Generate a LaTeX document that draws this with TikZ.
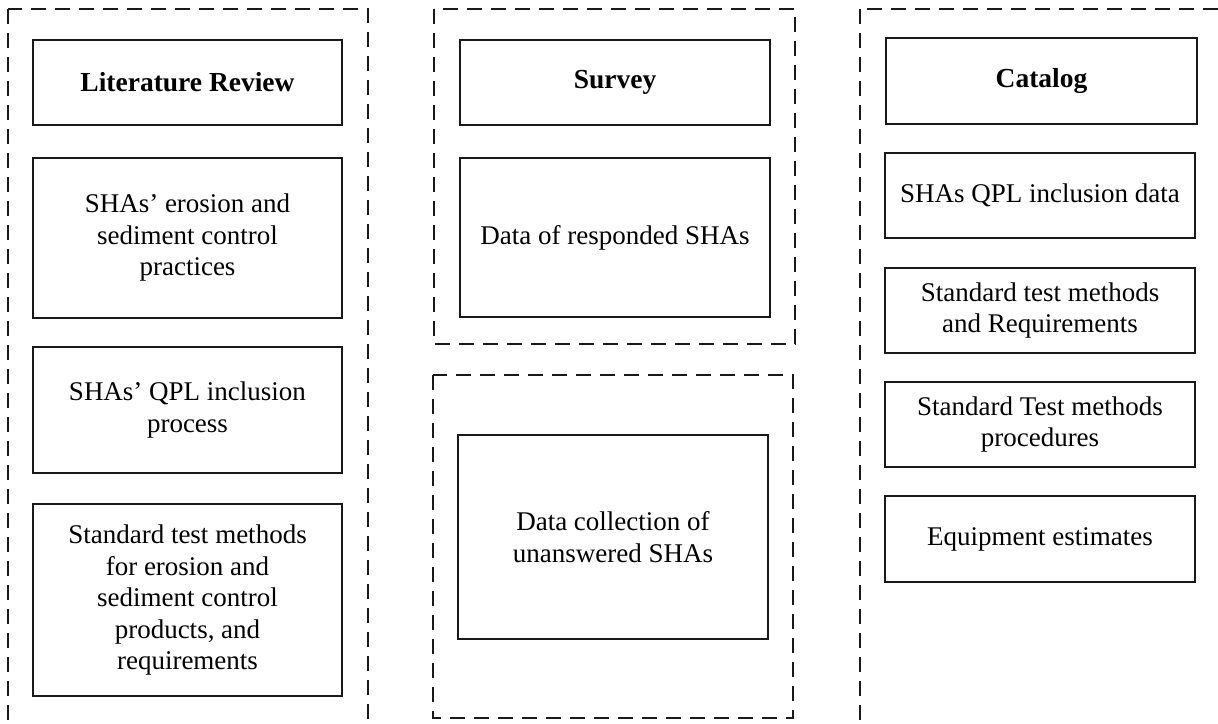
\documentclass[tikz,border=0pt]{standalone}
\usepackage{fontspec}
\setmainfont{Liberation Serif}
\begin{document}
\begin{tikzpicture}[x=1pt,y=-1pt,
  stagebox/.style={draw=black!90,line width=2.8pt,inner sep=0pt,align=center,
    font=\fontsize{27}{31.5}\selectfont},
  headbox/.style={stagebox,font=\fontsize{27.5}{31.5}\selectfont\bfseries},
  group/.style={draw=black!90,line width=2.4pt,dash pattern=on 15pt off 9pt}]
\useasboundingbox (0,0) rectangle (1218,723);
\clip (0,0) rectangle (1218,723);
\fill[white] (0,0) rectangle (1218,723);
% dashed containers
\draw[group] (8,9) rectangle (368,760);
\draw[group] (434,9) rectangle (795,344);
\draw[group] (433,375) rectangle (793,718);
\draw[group] (860,9) rectangle (1260,760);
% Literature review column
\node[headbox,minimum width=309,minimum height=85] (lit) at (187.5,82.5) {Literature Review};
\node[stagebox,minimum width=309,minimum height=160] (lit1) at (187.5,238) {SHAs’ erosion and\\sediment control\\practices};
\node[stagebox,minimum width=309,minimum height=126] (lit2) at (187.5,410) {SHAs’ QPL inclusion\\process};
\node[stagebox,minimum width=309,minimum height=192] (lit3) at (187.5,600) {Standard test methods\\for erosion and\\sediment control\\products, and\\requirements};
% Survey column
\node[headbox,minimum width=310,minimum height=85] (sur) at (615,82.5) {Survey};
\node[stagebox,minimum width=310,minimum height=159] (sur1) at (615,237.5) {Data of responded SHAs};
\node[stagebox,minimum width=310,minimum height=204] (sur2) at (613,537) {Data collection of\\unanswered SHAs};
% Catalog column
\node[headbox,minimum width=311,minimum height=86] (cat) at (1041.5,81) {Catalog};
\node[stagebox,minimum width=310,minimum height=85] (cat1) at (1040,195.5) {SHAs QPL inclusion data};
\node[stagebox,minimum width=310,minimum height=85] (cat2) at (1040,310.5) {Standard test methods\\and Requirements};
\node[stagebox,minimum width=310,minimum height=85] (cat3) at (1040,424.5) {Standard Test methods\\procedures};
\node[stagebox,minimum width=310,minimum height=86] (cat4) at (1040,539) {Equipment estimates};
\end{tikzpicture}
\end{document}
